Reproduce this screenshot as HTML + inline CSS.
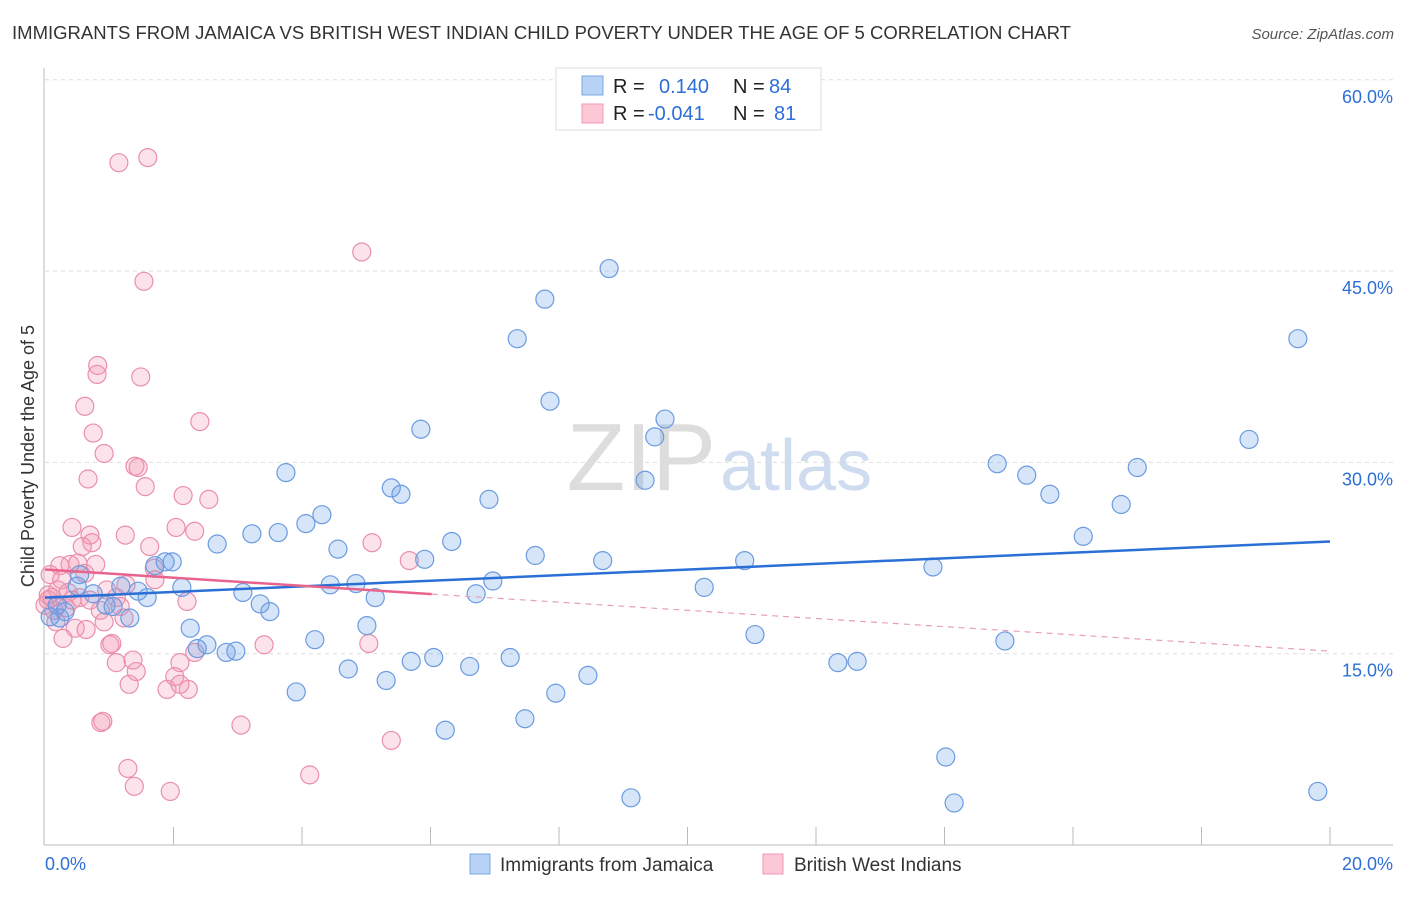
<!DOCTYPE html>
<html><head><meta charset="utf-8"><style>
body{margin:0;background:#fff;font-family:"Liberation Sans",sans-serif;}
svg text{font-family:"Liberation Sans",sans-serif;}
</style></head><body>
<svg id="chart" width="1406" height="892" xmlns="http://www.w3.org/2000/svg">
<text x="12" y="39" font-size="18" fill="#333" textLength="1059" lengthAdjust="spacingAndGlyphs">IMMIGRANTS FROM JAMAICA VS BRITISH WEST INDIAN CHILD POVERTY UNDER THE AGE OF 5 CORRELATION CHART</text>
<text x="1394" y="39" font-size="15" fill="#555" text-anchor="end" font-style="italic">Source: ZipAtlas.com</text>
<text x="716" y="490" font-size="96" fill="#ddd" text-anchor="end" font-family="Liberation Serif">ZIP</text>
<text x="720" y="490" font-size="72" fill="#cfdcf0">atlas</text>
<g id="grid"></g>
<g id="axes"></g>
<g id="pts"></g>
<g id="trend"></g>
<text transform="translate(34,456) rotate(-90)" font-size="18" fill="#333" text-anchor="middle">Child Poverty Under the Age of 5</text>
<g>
<rect x="556" y="68" width="265" height="62" fill="#fff" stroke="#ddd"/>
<rect x="582" y="76" width="21" height="19" fill="#b8d3f5" stroke="#7aa8e6"/>
<rect x="582" y="104" width="21" height="19" fill="#fcc8d6" stroke="#ef9ab2"/>
<text x="613" y="93" font-size="20" fill="#222">R = </text><text x="659" y="93" font-size="20" fill="#2d6fd6">0.140</text>
<text x="733" y="93" font-size="20" fill="#222">N =</text><text x="769" y="93" font-size="20" fill="#2d6fd6">84</text>
<text x="613" y="120" font-size="20" fill="#222">R = </text><text x="648" y="120" font-size="20" fill="#2d6fd6">-0.041</text>
<text x="733" y="120" font-size="20" fill="#222">N =</text><text x="774" y="120" font-size="20" fill="#2d6fd6">81</text>
</g>
<g>
<rect x="470" y="854" width="20" height="20" fill="#b8d3f5" stroke="#7aa8e6"/>
<text x="500" y="871" font-size="19" fill="#333">Immigrants from Jamaica</text>
<rect x="763" y="854" width="20" height="20" fill="#fcc8d6" stroke="#ef9ab2"/>
<text x="794" y="871" font-size="19" fill="#333">British West Indians</text>
</g>
</svg>
<script>
const blueX=[8.78,7.78,7.35,19.5,7.86,5.85,9.65,9.49,18.74,9.34,14.82,15.28,17.0,3.75,5.39,5.54,6.91,15.64,16.75,4.31,4.06,16.16,3.22,3.63,2.68,6.33,4.56,7.63,8.68,10.89,5.91,13.82,1.98,1.71,1.87,6.97,4.84,4.44,10.26,2.13,3.08,6.71,5.14,1.59,1.45,1.18,0.75,0.54,0.5,3.35,3.5,0.95,1.06,1.32,0.19,0.23,5.01,2.26,11.05,14.94,4.2,2.52,2.37,2.82,2.97,7.24,6.05,5.7,6.61,12.34,12.64,4.72,5.31,8.45,3.91,7.95,7.47,6.23,14.02,9.12,14.15,19.81,0.08,0.31];
const blueY=[45.2,42.8,39.7,39.7,34.8,32.6,33.4,32.0,31.8,28.6,29.9,29.0,29.6,29.2,28.0,27.5,27.1,27.5,26.7,25.9,25.2,24.2,24.4,24.5,23.6,23.8,23.2,22.7,22.3,22.3,22.4,21.8,22.2,21.9,22.2,20.7,20.5,20.4,20.2,20.2,19.8,19.7,19.4,19.4,19.9,20.3,19.7,21.2,20.3,18.9,18.3,18.8,18.7,17.8,18.8,17.8,17.2,17.0,16.5,16.0,16.1,15.7,15.4,15.1,15.2,14.7,14.7,14.4,14.0,14.3,14.4,13.8,12.9,13.3,12.0,11.9,9.9,9.0,6.9,3.7,3.3,4.2,17.9,18.3];
const pinkX=[1.15,1.6,4.93,1.54,0.82,0.81,1.49,0.62,2.41,0.75,0.92,1.4,1.45,0.67,1.56,2.15,2.55,0.42,2.04,2.33,0.7,1.25,0.73,5.09,1.63,0.58,5.67,0.39,0.79,1.7,0.23,0.51,0.62,0.08,0.26,1.71,1.26,0.96,0.05,0.36,0.54,1.11,2.21,1.17,0.86,0.14,0.33,1.23,0.92,0.47,0.64,0.28,5.04,3.41,1.04,1.01,2.33,2.1,1.11,1.37,1.42,2.02,2.23,1.9,1.31,2.1,0.87,0.9,3.05,5.39,1.29,4.12,1.39,1.95,0.05,0.2,0.0,0.17,0.42,0.7,0.11];
const pinkY=[53.5,53.9,46.5,44.2,37.6,36.9,36.7,34.4,33.2,32.3,30.7,29.7,29.6,28.7,28.1,27.4,27.1,24.9,24.9,24.6,24.3,24.3,23.7,23.7,23.4,23.4,22.3,22.0,22.0,21.7,21.9,22.1,21.3,21.2,20.8,20.8,20.4,20.0,19.6,19.8,19.4,19.4,19.1,18.7,18.4,18.4,18.6,17.8,17.5,17.0,16.9,16.2,15.8,15.7,15.8,15.7,15.1,14.3,14.3,14.5,13.6,13.2,12.2,12.2,12.6,12.6,9.6,9.7,9.4,8.2,6.0,5.5,4.6,4.2,19.2,20.0,18.8,17.5,19.2,19.2,19.4];
const yTicks=[15,30,45,60];
const xTicks=[0,2,4,6,8,10,12,14,16,18,20];
const blueTrend=[19.4,23.8];
const pinkTrend=[21.6,15.2];
const pinkSolidEnd=6.02;
const NS="http://www.w3.org/2000/svg";
const sx=v=>45+v/20*1285;
const sy=v=>845-v/15*191.3;
function mk(tag,attrs,parent){const e=document.createElementNS(NS,tag);for(const k in attrs)e.setAttribute(k,attrs[k]);parent.appendChild(e);return e;}
const grid=document.getElementById('grid'),axes=document.getElementById('axes'),pts=document.getElementById('pts'),trend=document.getElementById('trend');
yTicks.forEach(t=>{
 const l=mk('line',{x1:45,x2:1393,y1:sy(t),y2:sy(t),stroke:'#ddd','stroke-dasharray':'4,4'},grid);
 
 
 const tx=mk('text',{x:1393,y:sy(t)+23,'font-size':18,fill:'#2d6fd6','text-anchor':'end'},axes);
 tx.textContent=t.toFixed(1)+'%';
 
 
});
const ya=mk('line',{x1:44,x2:44,y1:68,y2:845,stroke:'#bbb'},axes);


const xa=mk('line',{x1:44,x2:1393,y1:845,y2:845,stroke:'#bbb'},axes);


xTicks.forEach(t=>{if(t===0)return;
 const l=mk('line',{x1:sx(t),x2:sx(t),y1:827,y2:845,stroke:'#bbb'},axes);
 
 
});
[[0,'start',45],[20,'end',1393]].forEach(([t,a,x])=>{
 const tx=mk('text',{x:x,y:870,'font-size':18,fill:'#2d6fd6','text-anchor':a},axes);
 tx.textContent=t.toFixed(1)+'%';
 
 
});
pinkX.forEach((v,i)=>{
 const c=mk('circle',{cx:sx(v),cy:sy(pinkY[i]),r:9,fill:'rgba(244,150,180,0.28)',stroke:'#ea8fab','stroke-width':1.2},pts);
 
 
});
blueX.forEach((v,i)=>{
 const c=mk('circle',{cx:sx(v),cy:sy(blueY[i]),r:9,fill:'rgba(110,160,230,0.28)',stroke:'#6a9be0','stroke-width':1.2},pts);
 
 
});
const bl=mk('line',{x1:sx(0),y1:sy(blueTrend[0]),x2:sx(20),y2:sy(blueTrend[1]),stroke:'#2a6fd6','stroke-width':2.5},trend);


const pm=pinkTrend[0]+(pinkTrend[1]-pinkTrend[0])*pinkSolidEnd/20;
const pl=mk('line',{x1:sx(0),y1:sy(pinkTrend[0]),x2:sx(pinkSolidEnd),y2:sy(pm),stroke:'#e8648c','stroke-width':2.5},trend);


const pd=mk('line',{x1:sx(pinkSolidEnd),y1:sy(pm),x2:sx(20),y2:sy(pinkTrend[1]),stroke:'#e8a0b5','stroke-width':1.2,'stroke-dasharray':'6,5'},trend);


</script>
</body></html>
